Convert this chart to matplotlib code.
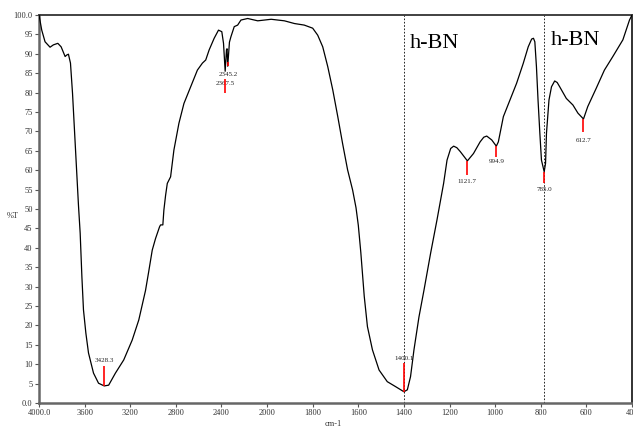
import matplotlib
matplotlib.use('Agg')
import matplotlib.pyplot as plt
import numpy as np
from matplotlib.ticker import FixedLocator, FixedFormatter

plt.rcParams['font.family'] = 'Liberation Serif'

# Espectro FTIR (número de onda cm-1, %T)
wavenumber = [4000, 3976, 3947, 3903, 3874, 3835, 3806, 3771, 3756, 3742, 3724, 3706,
              3689, 3668, 3654, 3639, 3624, 3610, 3589, 3566, 3522, 3478, 3428, 3389,
              3330, 3257, 3183, 3125, 3066, 3040, 3007, 2978, 2963, 2943, 2934, 2914,
              2905, 2890, 2875, 2846, 2817, 2773, 2729, 2670, 2611, 2567, 2538, 2508,
              2464, 2426, 2397, 2382, 2367.5, 2356, 2351, 2345.2, 2330, 2317, 2288, 2258,
              2229, 2170, 2082, 2024, 1982, 1924, 1880, 1837, 1800, 1778, 1756, 1734,
              1712, 1690, 1669, 1647, 1625, 1610, 1600, 1589, 1574, 1560, 1538, 1509,
              1473, 1436, 1400, 1385, 1371, 1356, 1334, 1312, 1283, 1255, 1226, 1211,
              1195, 1182, 1168, 1153, 1121.7, 1095, 1066, 1050, 1037, 1015, 994.9, 986,
              964, 935, 906, 877, 855, 840, 832, 826, 819, 812, 804, 797, 785, 779,
              775, 764, 753, 739, 728, 717, 688, 659, 637, 612.7, 594, 557, 521, 484,
              440, 411, 400]
transmittance = [100.0, 96.1, 93.1, 91.7, 92.3, 92.7, 91.8, 89.3, 89.7, 89.9, 87.6, 79.8,
                 70.4, 58.3, 51.0, 43.8, 32.6, 24.0, 18.0, 12.9, 7.7, 5.1, 4.4, 4.6,
                 7.7, 11.1, 16.2, 21.4, 29.0, 33.5, 39.4, 42.4, 43.7, 45.4, 45.9, 45.9,
                 49.7, 53.5, 56.6, 58.3, 65.2, 72.1, 77.2, 81.5, 85.8, 87.6, 88.4, 91.0,
                 94.0, 96.1, 95.7, 92.7, 85.5, 91.0, 91.3, 86.8, 93.0, 94.4, 97.0, 97.4,
                 98.7, 99.1, 98.5, 98.7, 98.9, 98.5, 97.8, 97.4, 96.6, 94.8, 91.8, 86.7,
                 80.7, 73.8, 66.9, 60.1, 54.9, 50.3, 45.8, 38.8, 27.5, 19.7, 13.7, 8.5,
                 5.5, 4.2, 2.9, 3.4, 6.8, 13.7, 22.2, 29.1, 38.6, 47.2, 56.6, 62.6,
                 65.6, 66.2, 65.8, 64.8, 62.4, 64.3, 67.3, 68.5, 68.8, 67.8, 66.2, 67.3,
                 73.8, 78.1, 82.4, 87.5, 91.8, 93.8, 94.0, 93.1, 86.7, 78.1, 69.5, 62.6,
                 59.6, 61.8, 69.5, 78.1, 81.5, 83.0, 82.6, 81.5, 78.5, 76.8, 74.7, 73.2,
                 76.4, 81.1, 85.8, 89.3, 93.6, 98.7, 100.0]

# Picos marcados
peak_pos = [3428.3, 2367.5, 2345.2, 1400.1, 1121.7, 994.9, 785.0, 612.7]
peak_top = [9.6, 80.0, 86.8, 10.3, 62.4, 66.2, 59.6, 73.2]
peak_bot = [4.4, 83.5, 87.9, 2.9, 58.8, 63.5, 56.7, 69.9]
hbn_lines = [1400, 785]

xticks = [4000, 3600, 3200, 2800, 2400, 2000, 1800, 1600, 1400, 1200, 1000, 800, 600, 400]
xticklabels = ['4000.0', '3600', '3200', '2800', '2400', '2000', '1800', '1600', '1400',
               '1200', '1000', '800', '600', '400']
yticks = list(range(0, 101, 5))
yticklabels = ['0.0'] + [str(v) for v in yticks[1:-1]] + ['100.0']


# Escala típica de FTIR: por encima de 2000 cm-1 comprimida a la mitad
def fwd(x):
    x = np.asarray(x, dtype=float)
    return np.where(x > 2000, 2000 + (x - 2000) / 2, x)


def inv(t):
    t = np.asarray(t, dtype=float)
    return np.where(t > 2000, 2000 + 2 * (t - 2000), t)


fig = plt.figure(figsize=(6.33, 4.28), dpi=100)
ax = fig.add_axes([39 / 633, 25 / 428, 593 / 633, 388 / 428])
ax.set_xscale('function', functions=(fwd, inv))
ax.set_xlim(4000, 400)
ax.set_ylim(0, 100)

ax.plot(wavenumber, transmittance, color='black', lw=0.9, zorder=3)

for xl in hbn_lines:
    ax.axvline(xl, color='black', ls=(0, (2, 2)), lw=0.6, zorder=2)

ax.vlines(peak_pos, peak_bot, peak_top, color='red', lw=1.2, zorder=4)

lab_kw = dict(fontsize=5, ha='center', color='#222222')
ax.text(3428.3, 10.3, '3428.3', va='bottom', **lab_kw)
ax.text(1400.1, 10.8, '1400.1', va='bottom', **lab_kw)
ax.text(2342, 84.6, '2345.2', va='center', **lab_kw)
ax.text(2370, 82.3, '2367.5', va='center', **lab_kw)
ax.text(1121.7, 57.2, '1121.7', va='center', **lab_kw)
ax.text(994.9, 62.2, '994.9', va='center', **lab_kw)
ax.text(785.0, 55.0, '785.0', va='center', **lab_kw)
ax.text(612.7, 67.6, '612.7', va='center', **lab_kw)

ax.text(1375, 91.4, 'h-BN', fontsize=16, ha='left', va='baseline')
ax.text(758, 92.3, 'h-BN', fontsize=16, ha='left', va='baseline')

ax.xaxis.set_major_locator(FixedLocator(xticks))
ax.xaxis.set_major_formatter(FixedFormatter(xticklabels))
ax.xaxis.set_minor_locator(FixedLocator([]))
ax.yaxis.set_major_locator(FixedLocator(yticks))
ax.yaxis.set_major_formatter(FixedFormatter(yticklabels))
ax.tick_params(axis='both', labelsize=6, labelcolor='#333333', color='#555555',
               length=3, width=0.8, pad=1.5)

for s in ['left', 'bottom']:
    ax.spines[s].set_color('#666666')
    ax.spines[s].set_linewidth(1.8)
ax.spines['top'].set_color('#333333')
ax.spines['top'].set_linewidth(1.3)
ax.spines['right'].set_color('#222222')
ax.spines['right'].set_linewidth(1.3)

fig.text(13 / 633, 1 - 216 / 428, '%T', fontsize=6, ha='center', va='center', color='#333333')
fig.text(333 / 633, 1 - 424 / 428, 'cm-1', fontsize=6, ha='center', va='center', color='#333333')

fig.savefig('out.png', dpi=100)
